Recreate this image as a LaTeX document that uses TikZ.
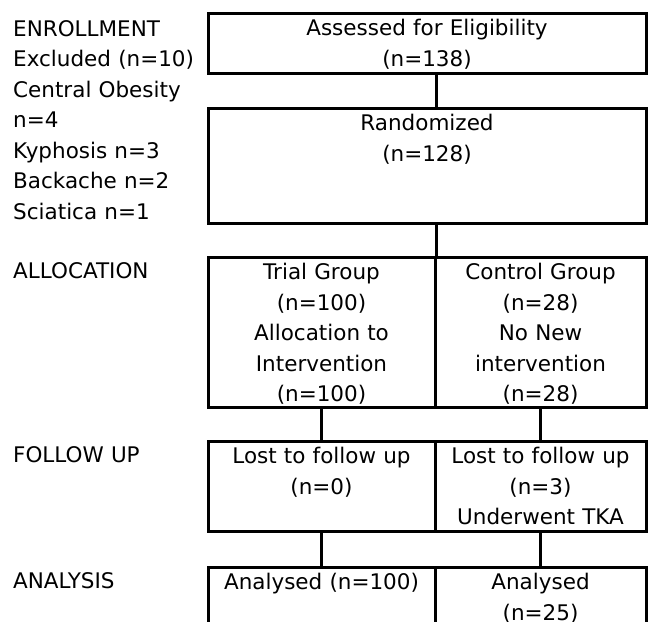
\documentclass[tikz,border=0pt]{standalone}
\usepackage{fontspec}
\setmainfont{DejaVu Sans}
\newcommand{\boxfont}{\fontsize{21.5}{30.5}\selectfont}
\newcommand{\sidefont}{\fontsize{21.5}{30.5}\selectfont}
\begin{document}
\begin{tikzpicture}[x=1pt, y=-1pt,
    stagebox/.style={draw, line width=3pt, inner sep=0pt},
    boxtext/.style={anchor=north, inner sep=0pt, align=center, font=\boxfont, execute at begin node=\strut, yshift=-2.5pt},
    stagelabel/.style={anchor=north west, inner sep=0pt, align=left, text width=190pt, font=\sidefont, execute at begin node=\strut, yshift=-1.5pt},
    link/.style={line width=3pt}]
  \useasboundingbox (0,0) rectangle (652,621);

  % boxes
  \node[stagebox, minimum width=438pt, minimum height=60pt] (assess) at (427,43) {};
  \node[stagebox, minimum width=438pt, minimum height=115pt] (rand) at (427,165.5) {};
  \node[stagebox, minimum width=227pt, minimum height=150pt] (trial) at (321.5,332) {};
  \node[stagebox, minimum width=211pt, minimum height=150pt] (control) at (540.5,332) {};
  \node[stagebox, minimum width=227pt, minimum height=90pt] (lostT) at (321.5,486) {};
  \node[stagebox, minimum width=211pt, minimum height=90pt] (lostC) at (540.5,486) {};
  \node[stagebox, minimum width=227pt, minimum height=90pt] (anaT) at (321.5,612) {}; % runs off the page
  \node[stagebox, minimum width=211pt, minimum height=90pt] (anaC) at (540.5,612) {};

  % box texts
  \node[boxtext, text width=430pt] (assessT) at (assess.north) {Assessed for Eligibility\\(n=138)};
  \node[boxtext, text width=430pt] (randT) at (rand.north) {Randomized\\(n=128)};
  \node[boxtext, text width=220pt] (trialT) at (trial.north) {Trial Group\\(n=100)\\Allocation to\\Intervention\\(n=100)};
  \node[boxtext, text width=205pt] (controlT) at (control.north) {Control Group\\(n=28)\\No New\\intervention\\(n=28)};
  \node[boxtext, text width=220pt] (lostTT) at (lostT.north) {Lost to follow up\\(n=0)};
  \node[boxtext, text width=205pt] (lostCT) at (lostC.north) {Lost to follow up\\(n=3)\\Underwent TKA};
  \node[boxtext, text width=220pt] (anaTT) at (anaT.north) {Analysed (n=100)};
  \node[boxtext, text width=205pt] (anaCT) at (anaC.north) {Analysed\\(n=25)};

  % stage labels
  \node[stagelabel] (enrol) at (13,13) {ENROLLMENT\\Excluded (n=10)\\Central Obesity\\n=4\\Kyphosis n=3\\Backache n=2\\Sciatica n=1};
  \node[stagelabel] (alloc) at (enrol.north west |- trial.north) {ALLOCATION};
  \node[stagelabel] (follow) at (enrol.north west |- lostT.north) {FOLLOW UP};
  \node[stagelabel] (analysis) at (enrol.north west |- anaT.north) {ANALYSIS};

  % connectors
  \draw[link] (assess.south -| trial.north east) -- (rand.north -| trial.north east);
  \draw[link] (rand.south -| trial.north east) -- (trial.north east);
  \draw[link] (trial.south) -- (lostT.north);
  \draw[link] (control.south) -- (lostC.north);
  \draw[link] (lostT.south) -- (anaT.north);
  \draw[link] (lostC.south) -- (anaC.north);
\end{tikzpicture}
\end{document}
